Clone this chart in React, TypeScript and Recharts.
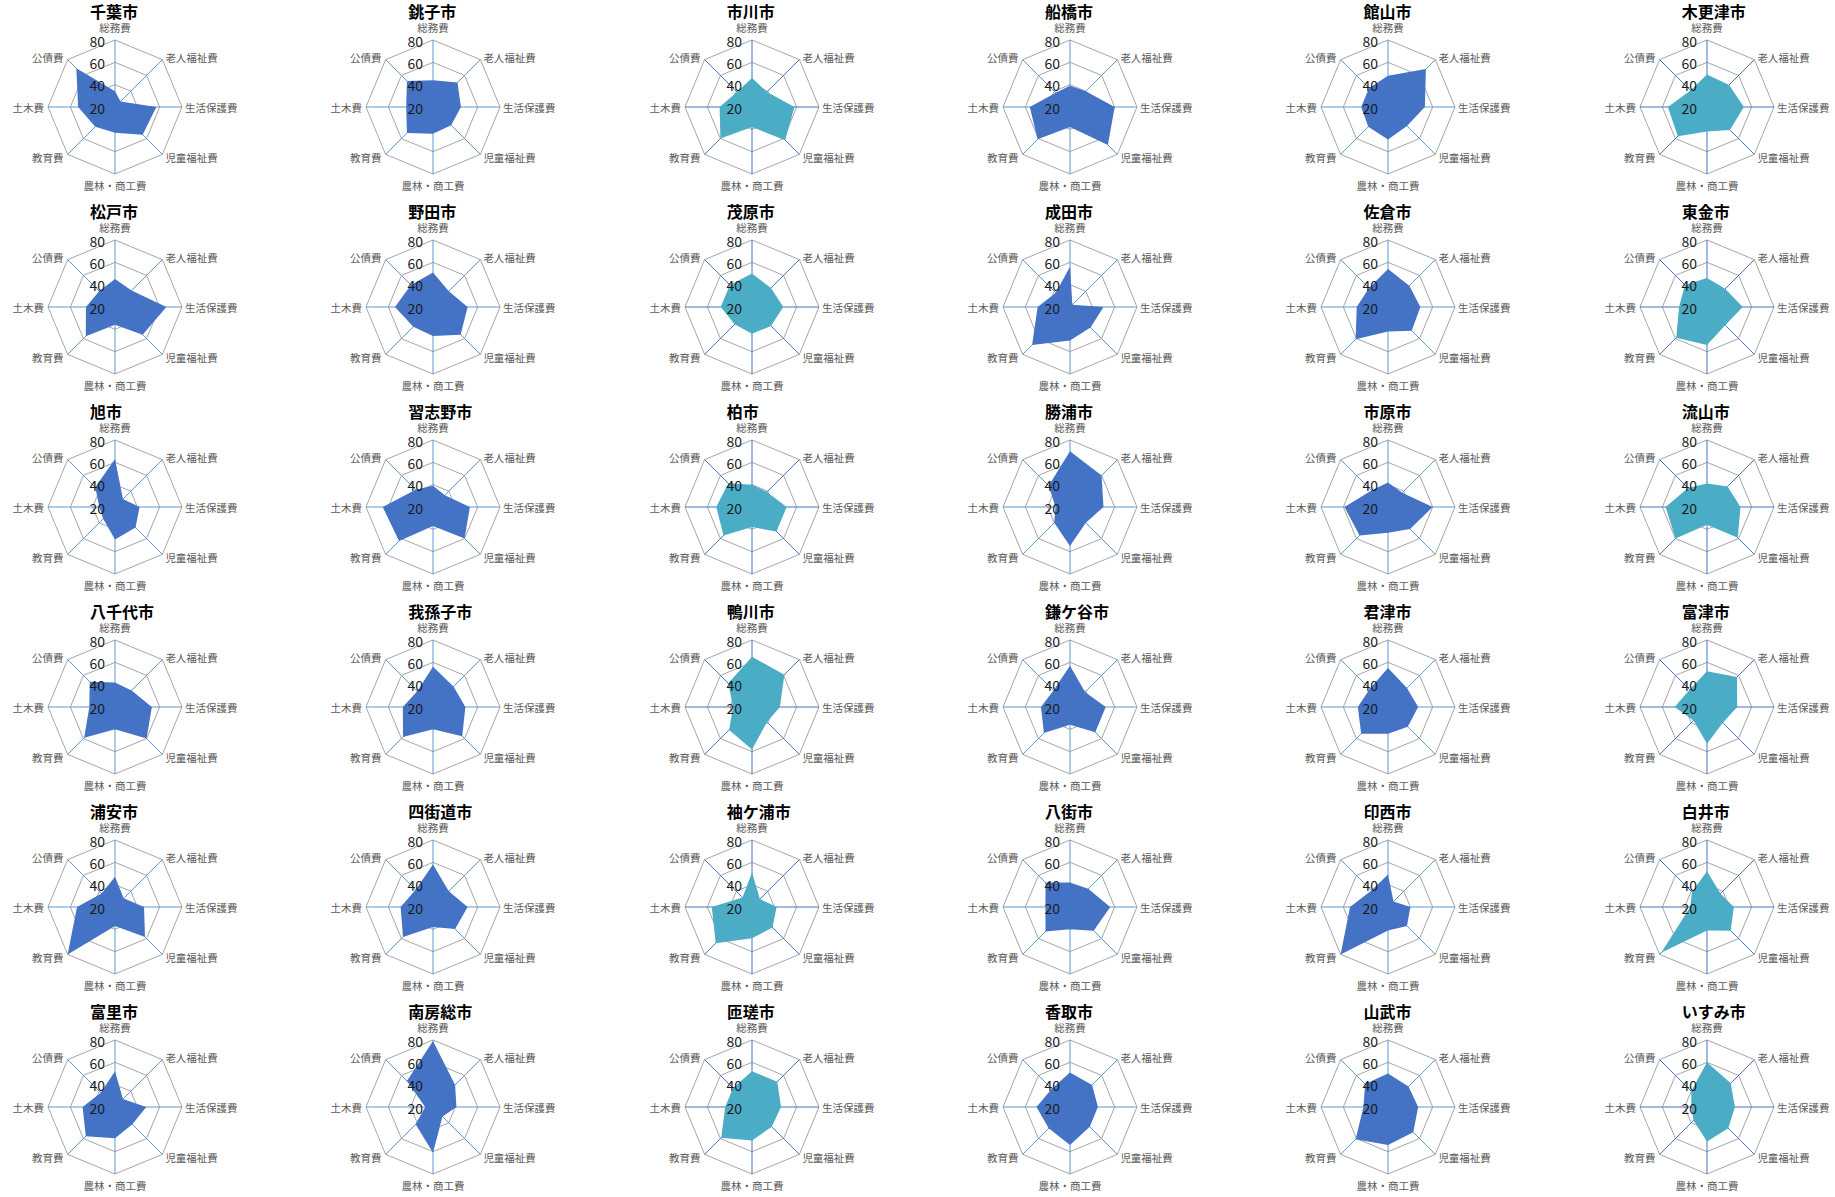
import React from "react";
import { RadarChart, Radar, PolarGrid, PolarAngleAxis, PolarRadiusAxis } from "recharts";

const categories = ["総務費", "老人福祉費", "生活保護費", "児童福祉費", "農林・商工費", "教育費", "土木費", "公債費"];
const radiusTicks = [20, 40, 60, 80];

const cityNames = [
  "千葉市", "銚子市", "市川市", "船橋市", "館山市", "木更津市",
  "松戸市", "野田市", "茂原市", "成田市", "佐倉市", "東金市",
  "旭市", "習志野市", "柏市", "勝浦市", "市原市", "流山市",
  "八千代市", "我孫子市", "鴨川市", "鎌ケ谷市", "君津市", "富津市",
  "浦安市", "四街道市", "袖ケ浦市", "八街市", "印西市", "白井市",
  "富里市", "南房総市", "匝瑳市", "香取市", "山武市", "いすみ市",
];

// cities drawn in the aqua colour (columns 3 and 6)
const aquaCities = ["市川市", "木更津市", "茂原市", "東金市", "柏市", "流山市", "鴨川市", "富津市", "袖ケ浦市", "白井市", "匝瑳市", "いすみ市"];

// order: 総務, 老人福祉, 生活保護, 児童福祉, 農林・商工, 教育, 土木, 公債
const chiba = [34, 27, 57, 55, 43, 45, 53, 69];
const choshi = [44, 51, 45, 43, 44, 53, 44, 53];
const ichikawa = [46, 39, 58, 62, 38, 60, 49, 39];
const funabashi = [39, 40, 60, 68, 38, 61, 56, 38];
const tateyama = [48, 68, 53, 44, 49, 45, 44, 44];
const kisarazu = [49, 48, 53, 49, 42, 57, 55, 41];
const matsudo = [45, 41, 66, 55, 36, 57, 46, 40];
const noda = [51, 40, 51, 55, 46, 45, 54, 48];
const mobara = [50, 44, 48, 44, 44, 42, 48, 48];
const narita = [56, 23, 50, 46, 50, 68, 49, 38];
const sakura = [54, 47, 49, 50, 42, 61, 48, 44];
const togane = [46, 43, 52, 43, 54, 59, 45, 48];
const asahi = [63, 30, 42, 46, 49, 35, 34, 45];
const narashino = [39, 35, 53, 60, 37, 63, 65, 42];
const kashiwa = [40, 39, 51, 51, 38, 56, 52, 50];
const katsuura = [70, 60, 50, 40, 55, 40, 33, 47];
const ichihara = [42, 38, 60, 48, 43, 56, 59, 41];
const nagareyama = [41, 46, 50, 59, 36, 60, 57, 44];
const yachiyo = [42, 41, 53, 60, 40, 59, 43, 52];
const abiko = [56, 46, 49, 57, 40, 58, 47, 40];
const kamogawa = [65, 61, 45, 39, 58, 49, 37, 50];
const kamagaya = [57, 39, 52, 52, 36, 53, 46, 41];
const kimitsu = [55, 44, 47, 45, 44, 54, 47, 43];
const futtsu = [52, 58, 47, 40, 53, 37, 49, 42];
const urayasu = [47, 31, 46, 58, 37, 80, 54, 37];
const yotsukaido = [58, 40, 51, 48, 38, 58, 49, 42];
const sodegaura = [51, 30, 42, 46, 48, 66, 56, 32];
const yachimata = [42, 43, 56, 50, 40, 51, 42, 51];
const inzai = [49, 27, 40, 44, 41, 80, 54, 41];
const shiroi = [52, 37, 44, 50, 41, 78, 35, 39];
const tomisato = [52, 30, 48, 42, 48, 57, 49, 38];
const minamiboso = [79, 48, 41, 32, 61, 42, 27, 53];
const sosa = [52, 52, 46, 45, 50, 59, 44, 44];
const katori = [51, 48, 45, 45, 54, 47, 50, 43];
const sammu = [50, 46, 47, 52, 54, 61, 42, 49];
const isumi = [60, 50, 45, 47, 51, 37, 34, 40];

const cityValues = [
  chiba, choshi, ichikawa, funabashi, tateyama, kisarazu,
  matsudo, noda, mobara, narita, sakura, togane,
  asahi, narashino, kashiwa, katsuura, ichihara, nagareyama,
  yachiyo, abiko, kamogawa, kamagaya, kimitsu, futtsu,
  urayasu, yotsukaido, sodegaura, yachimata, inzai, shiroi,
  tomisato, minamiboso, sosa, katori, sammu, isumi,
];

const FONT = "'Noto Sans CJK JP', 'Noto Sans', sans-serif";
const COL_W = 318.35;
const ROW_H = 199.9;
const CX = 115;
const CY = 107;
const R = 67;

// category labels placed just outside each vertex
const AngleTick = (props: any) => {
  const { payload } = props;
  const a = (payload.coordinate * Math.PI) / 180;
  const cos = Math.cos(a);
  const sin = Math.sin(a);
  const vx = CX + R * cos;
  const vy = CY - R * sin;
  let x = vx;
  let y = vy;
  let anchor = "middle";
  if (Math.abs(cos) < 1e-6) {
    y = vy + (sin > 0 ? -13 : 11);
  } else if (cos > 0) {
    x = vx + 3;
    anchor = "start";
    y = vy + (sin > 0.1 ? -2 : sin < -0.1 ? 3 : 0);
  } else {
    x = vx - 4;
    anchor = "end";
    y = vy + (sin > 0.1 ? -2 : sin < -0.1 ? 3 : 0);
  }
  return (
    <text x={x} y={y} textAnchor={anchor} dominantBaseline="central" fontSize={10.5} fill="#595959" fontFamily={FONT}>
      {payload.value}
    </text>
  );
};

const RadiusTick = (props: any) => (
  <text x={props.x - 10} y={props.y + 0.5} textAnchor="end" dominantBaseline="central" fontSize={14} fill="#1a1a1a" fontFamily={FONT}>
    {props.payload.value}
  </text>
);

function CityRadar({ name, values, index }: { name: string; values: number[]; index: number }) {
  const col = index % 6;
  const row = Math.floor(index / 6);
  const aqua = aquaCities.includes(name);
  const fill = aqua ? "#4BACC6" : "#4472C4";
  const spoke = aqua ? "#4472C4" : "#5B9BD5";
  const data = categories.map((c, i) => ({ cat: c, value: values[i] }));

  return (
    <div style={{ position: "absolute", left: col * COL_W, top: row * ROW_H, width: 318, height: 200 }}>
      <div
        style={{
          position: "absolute",
          left: CX - 25,
          top: 3,
          fontFamily: FONT,
          fontSize: 16,
          fontWeight: 700,
          lineHeight: "16px",
          color: "#000",
          whiteSpace: "nowrap",
        }}
      >
        {name}
      </div>
      <RadarChart
        width={318}
        height={200}
        data={data}
        cx={CX}
        cy={CY}
        outerRadius={R}
        margin={{ top: 0, right: 0, bottom: 0, left: 0 }}
      >
        <PolarGrid gridType="polygon" radialLines={false} stroke="#A6A6A6" strokeWidth={1} />
        <Radar dataKey="value" stroke="none" fill={fill} fillOpacity={1} dot={false} isAnimationActive={false} />
        <PolarGrid gridType="polygon" polarRadius={[]} radialLines={true} stroke={spoke} strokeWidth={1} />
        <PolarAngleAxis dataKey="cat" tick={<AngleTick />} axisLine={false} tickLine={false} />
        <PolarRadiusAxis
          angle={90}
          domain={[20, 80]}
          ticks={radiusTicks as any}
          tickCount={4}
          tick={<RadiusTick />}
          axisLine={false}
          tickLine={false}
        />
      </RadarChart>
    </div>
  );
}

export default function App() {
  return (
    <div style={{ position: "relative", width: 1835, height: 1197, overflow: "hidden", background: "#fff" }}>
      <style>{"body{margin:0}"}</style>
      {cityNames.map((name, i) => (
        <CityRadar key={name} name={name} values={cityValues[i]} index={i} />
      ))}
    </div>
  );
}
